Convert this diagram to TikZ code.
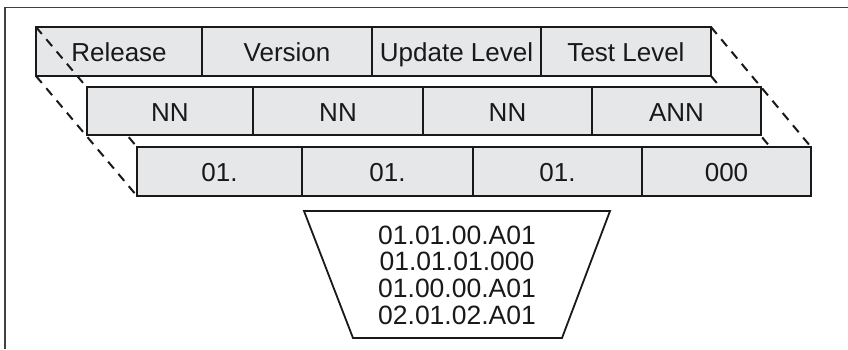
\documentclass[tikz,border=0pt]{standalone}
\usepackage{fontspec}
\setmainfont{Liberation Sans}
\pgfdeclarelayer{lower}
\pgfdeclarelayer{dashlayer}
\pgfsetlayers{lower,dashlayer,main}
\definecolor{cellgray}{RGB}{230,231,232}
\definecolor{ink}{RGB}{25,25,25}
\tikzset{
  cellbox/.style={draw=ink, fill=cellgray, line width=2pt, inner sep=0pt, outer sep=0pt,
    anchor=north west, text=ink, font=\fontsize{26}{28}\selectfont,
    text height=20.8pt, text depth=0pt},
  r1/.style={cellbox, minimum height=49pt},
  r2/.style={cellbox, minimum height=48pt},
  r3/.style={cellbox, minimum height=49pt},
  perspline/.style={draw=ink, line width=2pt, dash pattern=on 9pt off 7pt},
  frameline/.style={draw=black!75, line width=1.5pt},
  funnel/.style={draw=ink, line width=1.8pt, line join=miter},
}
\begin{document}
\begin{tikzpicture}[x=1pt, y=-1pt]
\useasboundingbox (0,0) rectangle (848,349);
% frame
\coordinate (fbl) at (4.8,349);
\coordinate (ftl) at (4.8,7.5);
\coordinate (ftr) at (848,7.5);
\draw[frameline] (fbl) -- (ftl) -- (ftr);
% row 1
\begin{pgfonlayer}{lower}
\node[r1, minimum width=166pt] (a1) at (36,27) {Release};
\node[r1, minimum width=170pt] (a2) at (202,27) {Version};
\node[r1, minimum width=169pt] (a3) at (372,27) {Update Level};
\node[r1, minimum width=170pt] (a4) at (541,27) {Test Level};
\end{pgfonlayer}
% row 2
\node[r2, minimum width=166pt] (b1) at (87,87) {NN};
\node[r2, minimum width=170pt] (b2) at (253,87) {NN};
\node[r2, minimum width=169pt] (b3) at (423,87) {NN};
\node[r2, minimum width=169pt] (b4) at (592,87) {ANN};
% row 3
\node[r3, minimum width=165pt] (c1) at (137,147) {01.};
\node[r3, minimum width=171pt] (c2) at (302,147) {01.};
\node[r3, minimum width=169pt] (c3) at (473,147) {01.};
\node[r3, minimum width=169pt] (c4) at (642,147) {000};
% perspective lines
\begin{pgfonlayer}{dashlayer}
\draw[perspline] (a1.north west) -- (c1.north west);
\draw[perspline] (a1.south west) -- (c1.south west);
\draw[perspline] (a4.north east) -- (c4.north east);
\draw[perspline] (a4.south east) -- (c4.south east);
\end{pgfonlayer}
% funnel
\coordinate (ttl) at (304,211);
\coordinate (ttr) at (610,211);
\coordinate (tbr) at (562,338);
\coordinate (tbl) at (353,338);
\draw[funnel] (ttl) -- (ttr) -- (tbr) -- (tbl) -- cycle;
\node[align=center, inner sep=0pt, text=ink, font=\fontsize{26.5}{26.7}\selectfont] (list) at (457,275)
  {01.01.00.A01\\01.01.01.000\\01.00.00.A01\\02.01.02.A01};
\end{tikzpicture}
\end{document}
